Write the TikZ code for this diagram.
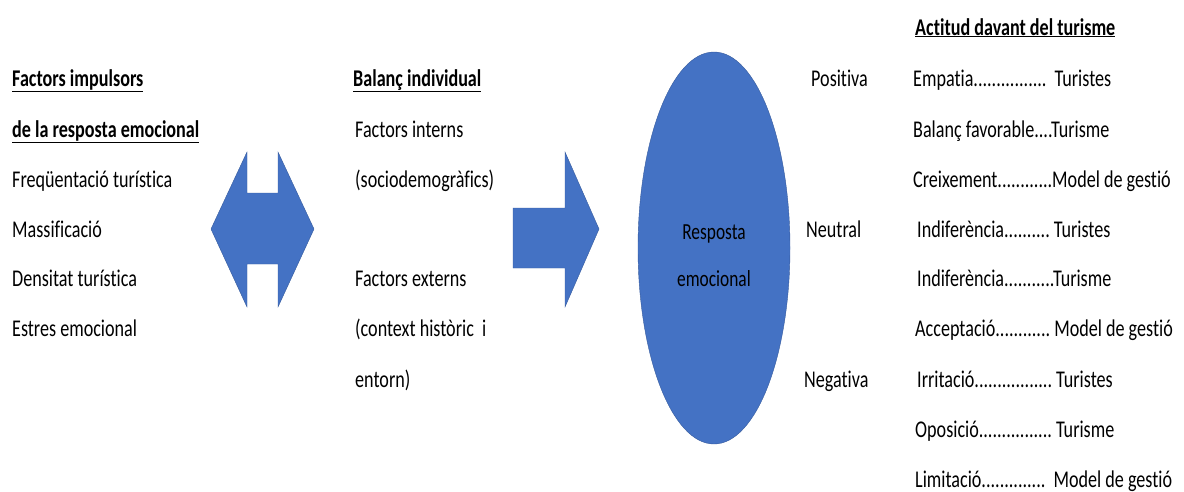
\documentclass[tikz,border=0pt]{standalone}
\usepackage{fontspec}
\setmainfont[FakeStretch=0.755, Ligatures=NoCommon]{Carlito}
\usetikzlibrary{positioning}
\definecolor{offblue}{RGB}{68,114,196}

\begin{document}
\begin{tikzpicture}[x=1pt, y=-1pt,
  font=\fontsize{24}{28}\selectfont,
  txt/.style={anchor=base west, inner sep=0pt},
  hd/.style={txt, font=\fontsize{24}{28}\selectfont\bfseries},
  blk/.style={fill=offblue, draw=offblue!80!black, line width=0.4pt}]
\useasboundingbox (0,0) rectangle (1184,491);

% left column
\node[hd] (fi1) at (12,86) {\underline{Factors impulsors}};
\node[hd] (fi2) at (12,137) {\underline{de la resposta emocional}};
\node[txt] (fq) at (12,187) {Freqüentació turística};
\node[txt] (ms) at (12,237) {Massificació};
\node[txt] (dn) at (12,286) {Densitat turística};
\node[txt] (es) at (12,336) {Estres emocional};

% double arrow
\draw[blk] (211,229) -- (247,152) -- (247,193) -- (278,193) -- (278,152)
  -- (314,229) -- (278,307) -- (278,264) -- (247,264) -- (247,307) -- cycle;

% middle column
\node[hd] (bi) at (353,86) {\underline{Balanç individual}};
\node[txt] (fin) at (355,137) {Factors interns};
\node[txt] (sd) at (355,187) {(sociodemogràfics)};
\node[txt] (fex) at (355,286) {Factors externs};
\node[txt] (ch) at (355,336) {(context històric\ \ i};
\node[txt] (en) at (355,387) {entorn)};

% single arrow
\draw[blk] (513,208) -- (565,208) -- (565,152) -- (599,229) -- (565,307)
  -- (565,268) -- (513,268) -- cycle;

% ellipse
\draw[blk] (714,248) ellipse [x radius=76, y radius=196];
\node[align=center, inner sep=0pt, font=\fontsize{23}{47}\selectfont] (rsp) at (714,256) {Resposta\\emocional};

% right column
\node[hd] (act) at (915,35) {\underline{Actitud davant del turisme}};
\node[txt] (pos) at (811,86) {Positiva};
\node[txt] (neu) at (806,237) {Neutral};
\node[txt] (neg) at (804,387) {Negativa};
\node[txt] (r1) at (913,86) {Empatia................\ \ Turistes};
\node[txt] (r2) at (913,137) {Balanç favorable....Turisme};
\node[txt] (r3) at (913,187) {Creixement............Model de gestió};
\node[txt] (r4) at (917,237) {Indiferència..........\ Turistes};
\node[txt] (r5) at (917,286) {Indiferència...........Turisme};
\node[txt] (r6) at (915,336) {Acceptació............\ Model de gestió};
\node[txt] (r7) at (917,387) {Irritació.................\ Turistes};
\node[txt] (r8) at (915,437) {Oposició................\ Turisme};
\node[txt] (r9) at (915,487) {Limitació..............\ \ Model de gestió};
\end{tikzpicture}
\end{document}
